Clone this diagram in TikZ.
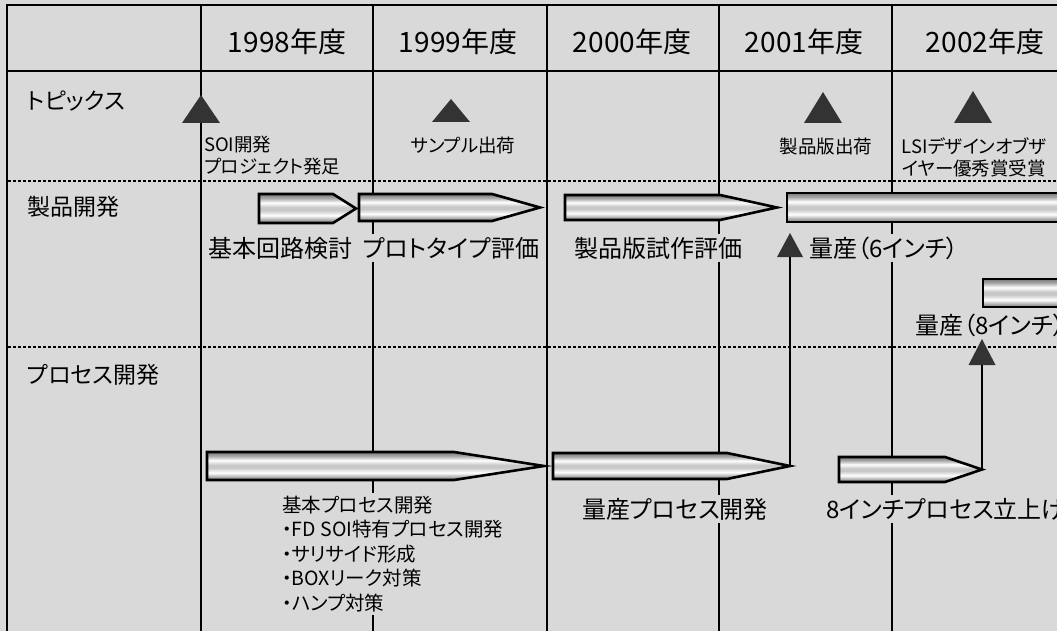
\documentclass[tikz,border=0pt]{standalone}
\usepackage{fontspec}
\setmainfont{Noto Sans CJK JP}[RawFeature={+palt}]
\definecolor{bg}{HTML}{D9D9D9}
\definecolor{tridark}{HTML}{333333}
\definecolor{mdark}{HTML}{7A7A7A}
\definecolor{mmid}{HTML}{A8A8A8}
\definecolor{mlight}{HTML}{C8C8C8}
\pgfdeclareverticalshading{metal}{100bp}{color(0bp)=(mdark); color(25bp)=(mdark); color(30bp)=(mmid); color(38bp)=(white); color(47bp)=(mlight); color(52bp)=(mlight); color(60bp)=(white); color(68bp)=(mmid); color(75bp)=(mdark); color(100bp)=(mdark)}
\tikzset{
  hdr/.style={font=\fontsize{28}{32}\selectfont, inner sep=0pt},
  rowlab/.style={font=\fontsize{23}{27}\selectfont, anchor=west, inner sep=0pt},
  topic/.style={font=\fontsize{18.5}{22}\selectfont, inner sep=0pt},
  lab/.style={font=\fontsize{24}{28}\selectfont, fill=bg, inner sep=3pt},
  labnf/.style={font=\fontsize{24}{28}\selectfont, inner sep=0pt},
  smalllist/.style={font=\fontsize{19.5}{24.5}\selectfont, fill=bg, inner sep=3pt, align=left},
  fatarrow/.style={draw=black, line width=2.6pt, shading=metal, line join=miter},
  tri/.style={fill=tridark},
  conn/.style={line width=2.6pt},
  colline/.style={line width=1.4pt},
  dotline/.style={line width=1.8pt, dash pattern=on 2.5pt off 2.5pt},
}
\newcommand\fatarr[6]{%
  \draw[fatarrow] (#2,#5) -- (#3,#5) -- (#4,{(#5+#6)/2}) -- (#3,#6) -- (#2,#6) -- cycle;
  \coordinate (#1) at (#4,{(#5+#6)/2});}
\newcommand\uptri[5]{% name, cx, apex y, base y, half width
  \fill[tri] (#2,#3) -- (#2+#5,#4) -- (#2-#5,#4) -- cycle;
  \coordinate (#1) at (#2,#4);}
\begin{document}
\begin{tikzpicture}[x=1pt,y=-1pt]
\useasboundingbox (0,0) rectangle (1057,631);
\clip (0,0) rectangle (1057,631);
\fill[bg] (0,0) rectangle (1057,631);
% grid
\foreach \x in {201,373,547,719,892} \draw[colline] (\x,5) -- (\x,640);
\draw[line width=2pt] (7,5) -- (1060,5);
\draw[line width=2.5pt] (7,4) -- (7,640);
\draw[line width=1.6pt] (7,71) -- (1060,71);
\draw[dotline] (8,181) -- (1060,181);
\draw[dotline] (8,347) -- (1060,347);
% header
\node[hdr] (y98) at (287,42) {1998年度};
\node[hdr] (y99) at (458,42) {1999年度};
\node[hdr] (y00) at (632,42) {2000年度};
\node[hdr] (y01) at (804,42) {2001年度};
\node[hdr] (y02) at (985,42) {2002年度};
% row labels
\node[rowlab] (topics) at (27,101) {トピックス};
\node[rowlab] (prod) at (27,207) {製品開発};
\node[rowlab] (proc) at (27,375) {プロセス開発};
% topics
\node[topic, anchor=west, align=left] (t1) at (204,156) {SOI開発\\プロジェクト発足};
\node[topic] (t2) at (463,145) {サンプル出荷};
\node[topic] (t3) at (826,146) {製品版出荷};
\node[topic, align=center] (t4) at (974,157) {LSIデザインオブザ\\イヤー優秀賞受賞};
\uptri{tr1}{201}{95}{123}{19}
\uptri{tr2}{451}{99}{122}{19}
\uptri{tr3}{823}{92}{123}{19}
\uptri{tr4}{973}{91}{123}{19}
% product development arrows
\fatarr{a1}{259}{333}{356}{194}{223}
\fatarr{a2}{359}{492}{540}{194}{221}
\fatarr{a3}{565}{720}{777}{195}{220}
\draw[fatarrow] (787,193) rectangle (1075,222);
\draw[fatarrow] (983,279) rectangle (1075,307);
\coordinate (bar6) at (787,207);
\coordinate (bar8) at (983,293);
% process arrows
\fatarr{a4}{207}{454}{544}{452}{480}
\fatarr{a5}{553}{727}{790}{453}{479}
\fatarr{a6}{839}{945}{982}{457}{482}
% labels
\node[lab] (l1) at (280,248) {基本回路検討};
\node[lab] (l2) at (451,248) {プロトタイプ評価};
\node[lab] (l3) at (658,248) {製品版試作評価};
\node[lab] (l4) at (884,248) {量産（6インチ）};
\node[labnf, anchor=west] (l5) at (915,325) {量産（8インチ）};
\node[lab] (l6) at (675,509) {量産プロセス開発};
\node[lab, anchor=west] (l7) at (823,509) {8インチプロセス立上げ};
\node[smalllist, anchor=west] (l8) at (279,554) {基本プロセス開発\\・FD SOI特有プロセス開発\\・サリサイド形成\\・BOXリーク対策\\・ハンプ対策};
% connectors
\uptri{tr5}{790}{233}{257}{13}
\uptri{tr6}{982}{339}{365}{13.5}
\draw[conn] (a5) -- (tr5);
\draw[conn] (a6) -- (tr6);
\end{tikzpicture}
\end{document}
